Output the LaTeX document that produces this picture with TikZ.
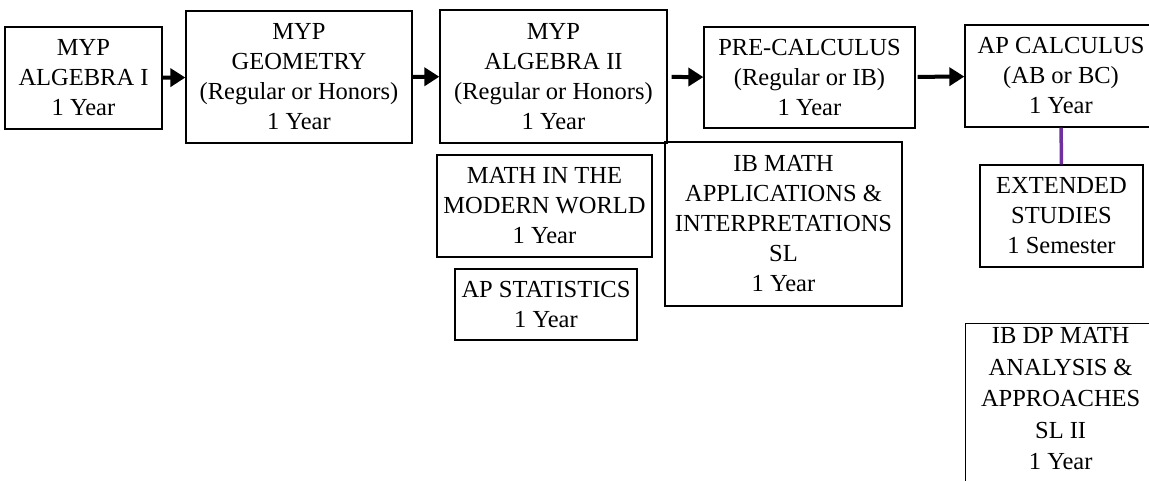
\documentclass[tikz,border=0pt]{standalone}
\usepackage{fontspec}
\setmainfont{Liberation Serif}
\usetikzlibrary{arrows.meta}
\definecolor{coursepurple}{RGB}{112,48,160}

\begin{document}
\begin{tikzpicture}[x=1pt,y=-1pt]

      \clip (0,0) rectangle (1149,481);

      \begin{scope}[every node/.style={draw,line width=1.3pt,align=center,inner sep=0pt,
          font=\fontsize{24.5}{30}\selectfont}]
        \node[minimum width=157pt,minimum height=102pt] (alg1)    at (83.5,78)   {MYP\\ALGEBRA I\\1 Year};
        \node[minimum width=226pt,minimum height=132pt] (geo)     at (299,77)    {MYP\\GEOMETRY\\(Regular or Honors)\\1 Year};
        \node[minimum width=227pt,minimum height=133pt] (alg2)    at (553.5,76.5) {MYP\\ALGEBRA II\\(Regular or Honors)\\1 Year};
        \node[minimum width=211pt,minimum height=101pt] (precalc) at (809.5,77.5) {PRE-CALCULUS\\(Regular or IB)\\1 Year};
        \node[minimum width=192pt,minimum height=102pt] (apcalc)  at (1061,76)   {AP CALCULUS\\(AB or BC)\\1 Year};
        \node[minimum width=163pt,minimum height=102pt] (ext)     at (1061.5,216) {EXTENDED\\STUDIES\\1 Semester};
        \node[minimum width=215pt,minimum height=102pt] (modern)  at (544.5,206) {MATH IN THE\\MODERN WORLD\\1 Year};
        \node[minimum width=182pt,minimum height=71pt]  (stats)   at (546,304.5) {AP STATISTICS\\1 Year};
        \node[minimum width=237pt,minimum height=164pt] (ibai)    at (783.5,224) {IB MATH\\APPLICATIONS \&\\INTERPRETATIONS\\SL\\1 Year};
        \node[minimum width=190pt,anchor=north west,inner ysep=4pt,text depth=100pt,
          font=\fontsize{24.5}{31.5}\selectfont] (ibaa) at (965,323)
          {IB DP MATH\\ANALYSIS \&\\APPROACHES\\SL II\\1 Year};
      \end{scope}

      \begin{scope}[every edge/.style={draw,line width=4pt,-{Triangle[length=15pt,width=18pt]}}]
        \path (alg1)    edge (geo);
        \path (geo)     edge (alg2);
        \path (alg2)    edge[shorten <=4pt] (precalc);
        \path (precalc) edge[shorten <=2pt] (apcalc);
      \end{scope}

      \path (apcalc) edge[draw,coursepurple,line width=3.5pt] (ext);

    \end{tikzpicture}
\end{document}
